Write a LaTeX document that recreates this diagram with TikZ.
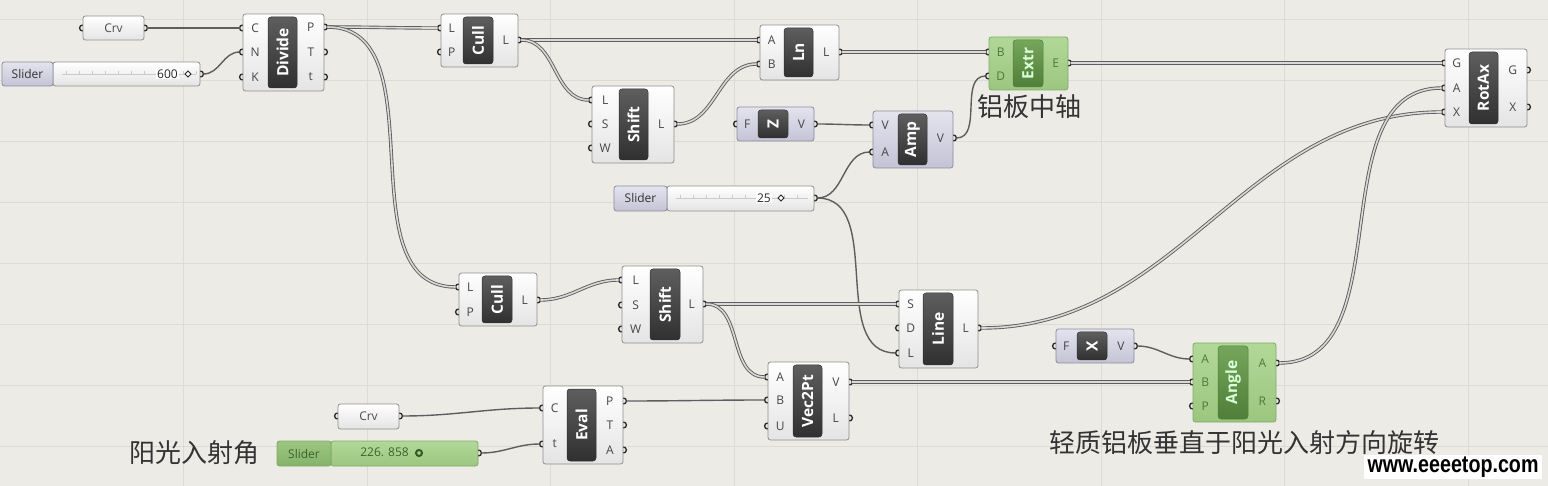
\documentclass[tikz,border=0pt]{standalone}
\usepackage{fontspec}
\setmainfont{Open Sans}
\newfontfamily\cjk{Noto Sans CJK SC}
\newfontfamily\wmfont{Liberation Sans}
\usetikzlibrary{calc,fit,shapes.geometric}
\definecolor{canvas}{HTML}{EDEBE6}
\definecolor{gridcol}{HTML}{DEDBD4}
\definecolor{compline}{HTML}{8E8E8E}
\definecolor{compgray}{HTML}{E4E4E4}
\definecolor{barhi}{HTML}{5E5E5E}
\definecolor{barlo}{HTML}{303030}
\definecolor{greenhi}{HTML}{B2D898}
\definecolor{greenlo}{HTML}{9CC680}
\definecolor{greenline}{HTML}{7FAA68}
\definecolor{gbarhi}{HTML}{76A65C}
\definecolor{gbarlo}{HTML}{4F7F38}
\definecolor{gport}{HTML}{4C7A36}
\definecolor{vhi}{HTML}{E4E4EF}
\definecolor{vlo}{HTML}{C3C3D5}
\definecolor{vline}{HTML}{8A8AA0}
\definecolor{portcol}{HTML}{4A434A}
\definecolor{gripcol}{HTML}{2E2E2E}
\definecolor{wirecol}{HTML}{5E5E5E}
\definecolor{wirelight}{HTML}{D9D9D6}
\definecolor{trackcol}{HTML}{CACACA}
% grips and ports of a component
\newcommand{\gripin}[3]{%
  \path (#1.west |- 0,#3) coordinate (#1-#2-e) ++(-3,0) coordinate (#1-#2);
  \draw[grip] (#1-#2-e) ++(0,3) arc[start angle=90,end angle=270,radius=3];}
\newcommand{\gripout}[3]{%
  \path (#1.east |- 0,#3) coordinate (#1-#2-e) ++(3,0) coordinate (#1-#2);
  \draw[grip] (#1-#2-e) ++(0,-3) arc[start angle=-90,end angle=90,radius=3];}
\newcommand{\portin}[3]{%
  \gripin{#1}{in#2}{#3}
  \node[port] (#1-in#2-t) at ($(#1-in#2-e)!0.5!(#1-bar.west |- #1-in#2-e)$) {#2};}
\newcommand{\portout}[3]{%
  \gripout{#1}{out#2}{#3}
  \node[port] (#1-out#2-t) at ($(#1-out#2-e)!0.5!(#1-bar.east |- #1-out#2-e)$) {#2};}

\begin{document}
\begin{tikzpicture}[x=1pt,y=-1pt,
  comp/.style={draw=compline,line width=0.8pt,rounded corners=2.5pt,
    top color=white,bottom color=compgray,inner sep=0pt},
  greencomp/.style={comp,draw=greenline,top color=greenhi,bottom color=greenlo},
  vcomp/.style={comp,draw=vline,top color=vhi,bottom color=vlo},
  bar/.style={rounded corners=3pt,top color=barhi,bottom color=barlo,
    draw=barlo,line width=0.5pt,inner sep=0pt},
  greenbar/.style={bar,top color=gbarhi,bottom color=gbarlo,draw=gbarlo},
  title/.style={rotate=90,text=white,inner sep=0pt,
    font=\fontsize{15.5}{16}\bfseries\selectfont},
  port/.style={text=portcol,inner sep=0pt,font=\fontsize{12}{13}\selectfont},
  grip/.style={draw=gripcol,line width=1.35pt},
  wire/.style={draw=wirecol,line width=1.4pt,out=0,in=180},
  listwire/.style={draw=wirecol,line width=0.9pt,double=wirelight,
    double distance=1.6pt,out=0,in=180},
  paramtext/.style={text=black!70,inner sep=0pt,font=\fontsize{12}{14}\selectfont},
  sliderlbl/.style={draw=vline,line width=0.8pt,rounded corners=2.5pt,
    top color=vhi,bottom color=vlo,inner sep=0pt},
  greenlbl/.style={sliderlbl,draw=greenline,top color=greenlo,bottom color=gbarhi!60!greenlo},
  track/.style={draw=trackcol,line width=0.6pt},
  knob/.style={diamond,draw=black!85,line width=0.9pt,fill=white,
    inner sep=0pt,minimum size=6.5pt},
  greenknob/.style={circle,draw=gbarlo!70!black,line width=2pt,
    inner sep=0pt,minimum size=6pt},
  cnlabel/.style={text=black!80,inner sep=0pt,font=\cjk\fontsize{26}{28}\selectfont}]

  % canvas and grid
  \fill[canvas] (0,0) rectangle (1548,486);
  \useasboundingbox (0,0) rectangle (1548,486);
  \foreach \gy in {19,80,...,446}
    \draw[gridcol,line width=0.8pt] (0,\gy) -- (1548,\gy);
  \foreach \gx in {183.5,367,...,1468}
    \draw[gridcol,line width=0.8pt] (\gx,0) -- (\gx,486);

  % curve (top)
  \node[comp,fit={(83,16) (144,40)}] (crvA) {};
  \node[paramtext] (crvA-t) at (crvA) {Crv};
  \gripin{crvA}{in}{28} \gripout{crvA}{out}{28}
  % slider 600
  \node[comp,fit={(53,62) (200,86)}] (sliderA) {};
  \node[sliderlbl,fit={(2,62) (53,86)}] (sliderA-lbl) {};
  \node[paramtext,text=black!80] (sliderA-name) at (sliderA-lbl) {Slider};
  \draw[track] (62,74) -- (196,74);
  \foreach \tx in {66,79,...,196} \draw[track] (\tx,71) -- (\tx,74);
  \node[paramtext,text=black!85,anchor=east,fill=white,inner sep=1pt] (sliderA-val) at (179,74) {600};
  \node[knob] (sliderA-knob) at (188,74) {};
  \gripout{sliderA}{out}{74}
  % divide
  \node[comp,fit={(243,14) (324,91)}] (divide) {};
  \node[bar,fit={(268,17) (297,88)}] (divide-bar) {};
  \node[title] (divide-title) at (divide-bar) {Divide};
  \portin{divide}{C}{28} \portin{divide}{N}{52} \portin{divide}{K}{77}
  \portout{divide}{P}{27} \portout{divide}{T}{52} \portout{divide}{t}{77}
  % cull (top)
  \node[comp,fit={(441,14) (518,67)}] (cullA) {};
  \node[bar,fit={(463,17) (493,64)}] (cullA-bar) {};
  \node[title] (cullA-title) at (cullA-bar) {Cull};
  \portin{cullA}{L}{28} \portin{cullA}{P}{52} \portout{cullA}{L}{40}
  % shift (top)
  \node[comp,fit={(592,86) (674,163)}] (shiftA) {};
  \node[bar,fit={(619,89) (648,160)}] (shiftA-bar) {};
  \node[title] (shiftA-title) at (shiftA-bar) {Shift};
  \portin{shiftA}{L}{100} \portin{shiftA}{S}{124} \portin{shiftA}{W}{148}
  \portout{shiftA}{L}{124}
  % line from two points
  \node[comp,fit={(760,25) (839,80)}] (ln) {};
  \node[bar,fit={(784,28) (813,77)}] (ln-bar) {};
  \node[title] (ln-title) at (ln-bar) {Ln};
  \portin{ln}{A}{40} \portin{ln}{B}{64} \portout{ln}{L}{52}
  % unit z
  \node[vcomp,fit={(737,107) (814,141)}] (vecZ) {};
  \node[bar,fit={(758,110) (788,138)}] (vecZ-bar) {};
  \node[title] (vecZ-title) at (vecZ-bar) {Z};
  \portin{vecZ}{F}{124} \portout{vecZ}{V}{124}
  % amplitude
  \node[vcomp,fit={(873,111) (953,168)}] (amp) {};
  \node[bar,fit={(898,114) (927,165)}] (amp-bar) {};
  \node[title] (amp-title) at (amp-bar) {Amp};
  \portin{amp}{V}{125} \portin{amp}{A}{152} \portout{amp}{V}{138}
  % extrude
  \begin{scope}[port/.append style={text=gport}]
    \node[greencomp,fit={(989,37) (1068,90)}] (extr) {};
    \node[greenbar,fit={(1013,40) (1043,87)}] (extr-bar) {};
    \node[title,text=white!85!green] (extr-title) at (extr-bar) {Extr};
    \portin{extr}{B}{52} \portin{extr}{D}{76} \portout{extr}{E}{63}
  \end{scope}
  % rotate axis
  \node[comp,fit={(1445,49) (1527,127)}] (rotax) {};
  \node[bar,fit={(1469,52) (1498,124)}] (rotax-bar) {};
  \node[title] (rotax-title) at (rotax-bar) {RotAx};
  \portin{rotax}{G}{63} \portin{rotax}{A}{88} \portin{rotax}{X}{112}
  \portout{rotax}{G}{70} \portout{rotax}{X}{107}
  % slider 25
  \node[comp,fit={(667,186) (814,211)}] (sliderB) {};
  \node[sliderlbl,fit={(614,186) (667,211)}] (sliderB-lbl) {};
  \node[paramtext,text=black!80] (sliderB-name) at (sliderB-lbl) {Slider};
  \draw[track] (676,198) -- (808,198);
  \foreach \tx in {680,693,...,808} \draw[track] (\tx,195) -- (\tx,198);
  \node[paramtext,text=black!85,anchor=east,fill=white,inner sep=1pt] (sliderB-val) at (772,198) {25};
  \node[knob] (sliderB-knob) at (781,198) {};
  \gripout{sliderB}{out}{198}
  % cull (bottom)
  \node[comp,fit={(459,273) (537,326)}] (cullB) {};
  \node[bar,fit={(482,276) (512,323)}] (cullB-bar) {};
  \node[title] (cullB-title) at (cullB-bar) {Cull};
  \portin{cullB}{L}{287} \portin{cullB}{P}{312} \portout{cullB}{L}{300}
  % shift (bottom)
  \node[comp,fit={(622,266) (703,343)}] (shiftB) {};
  \node[bar,fit={(650,269) (680,340)}] (shiftB-bar) {};
  \node[title] (shiftB-title) at (shiftB-bar) {Shift};
  \portin{shiftB}{L}{280} \portin{shiftB}{S}{305} \portin{shiftB}{W}{329}
  \portout{shiftB}{L}{304}
  % line sdl
  \node[comp,fit={(899,290) (978,368)}] (line) {};
  \node[bar,fit={(923,293) (953,365)}] (line-bar) {};
  \node[title] (line-title) at (line-bar) {Line};
  \portin{line}{S}{304} \portin{line}{D}{328} \portin{line}{L}{353}
  \portout{line}{L}{328}
  % unit x
  \node[vcomp,fit={(1056,329) (1134,363)}] (vecX) {};
  \node[bar,fit={(1077,332) (1107,360)}] (vecX-bar) {};
  \node[title] (vecX-title) at (vecX-bar) {X};
  \portin{vecX}{F}{346} \portout{vecX}{V}{346}
  % angle
  \begin{scope}[port/.append style={text=gport}]
    \node[greencomp,fit={(1193,343) (1276,422)}] (angle) {};
    \node[greenbar,fit={(1218,346) (1248,419)}] (angle-bar) {};
    \node[title,text=white!85!green] (angle-title) at (angle-bar) {Angle};
    \portin{angle}{A}{359} \portin{angle}{B}{382} \portin{angle}{P}{406}
    \portout{angle}{A}{363} \portout{angle}{R}{401}
  \end{scope}
  % vector 2pt
  \node[comp,fit={(768,362) (849,440)}] (vec2pt) {};
  \node[bar,fit={(793,365) (822,437)}] (vec2pt-bar) {};
  \node[title] (vec2pt-title) at (vec2pt-bar) {Vec2Pt};
  \portin{vec2pt}{A}{377} \portin{vec2pt}{B}{400} \portin{vec2pt}{U}{426}
  \portout{vec2pt}{V}{382} \portout{vec2pt}{L}{418}
  % curve (bottom)
  \node[comp,fit={(338,404) (399,429)}] (crvB) {};
  \node[paramtext] (crvB-t) at (crvB) {Crv};
  \gripin{crvB}{in}{416} \gripout{crvB}{out}{416}
  % slider 226.858
  \node[greencomp,fit={(331,441) (478,466)}] (sliderC) {};
  \node[greenlbl,fit={(277,441) (331,466)}] (sliderC-lbl) {};
  \node[paramtext,text=gport!80!black] (sliderC-name) at (sliderC-lbl) {Slider};
  \node[paramtext,text=gport!80!black,anchor=east] (sliderC-val) at (409,452) {226. 858};
  \node[greenknob] (sliderC-knob) at (419,453) {};
  \gripout{sliderC}{out}{453}
  % evaluate curve
  \node[comp,fit={(543,386) (623,464)}] (eval) {};
  \node[bar,fit={(567,389) (596,461)}] (eval-bar) {};
  \node[title] (eval-title) at (eval-bar) {Eval};
  \portin{eval}{C}{408} \portin{eval}{t}{444}
  \portout{eval}{P}{401} \portout{eval}{T}{425} \portout{eval}{A}{450}

  % wires
  \draw[wire] (crvA-out) to (divide-inC);
  \draw[wire] (sliderA-out) to (divide-inN);
  \draw[listwire] (divide-outP) to (cullA-inL);
  \draw[listwire] (divide-outP) to (cullB-inL);
  \draw[listwire] (cullA-outL) to (ln-inA);
  \draw[listwire] (cullA-outL) to (shiftA-inL);
  \draw[listwire] (shiftA-outL) to (ln-inB);
  \draw[listwire] (ln-outL) to (extr-inB);
  \draw[wire] (vecZ-outV) to (amp-inV);
  \draw[wire] (sliderB-out) to (amp-inA);
  \draw[wire] (sliderB-out) to (line-inL);
  \draw[wire] (amp-outV) to (extr-inD);
  \draw[listwire] (extr-outE) to (rotax-inG);
  \draw[listwire] (cullB-outL) to (shiftB-inL);
  \draw[listwire] (shiftB-outL) to (line-inS);
  \draw[listwire] (shiftB-outL) to (vec2pt-inA);
  \draw[listwire] (line-outL) to (rotax-inX);
  \draw[wire] (vecX-outV) to (angle-inA);
  \draw[listwire] (vec2pt-outV) to (angle-inB);
  \draw[wire] (eval-outP) to (vec2pt-inB);
  \draw[wire] (crvB-out) to (eval-inC);
  \draw[wire] (sliderC-out) to (eval-int);
  \draw[listwire] (angle-outA) to (rotax-inA);

  % notes
  \node[cnlabel] (axisnote) at (1029,107) {铝板中轴};
  \node[cnlabel] (sunnote) at (194,453) {阳光入射角};
  \node[cnlabel] (rotnote) at (1244,443) {轻质铝板垂直于阳光入射方向旋转};
  \node[fill=white,inner xsep=4pt,inner ysep=2pt,xscale=0.82,
        font=\wmfont\bfseries\fontsize{24}{24}\selectfont] (watermark)
       at (1453,467) {www.eeeetop.com};
\end{tikzpicture}
\end{document}
